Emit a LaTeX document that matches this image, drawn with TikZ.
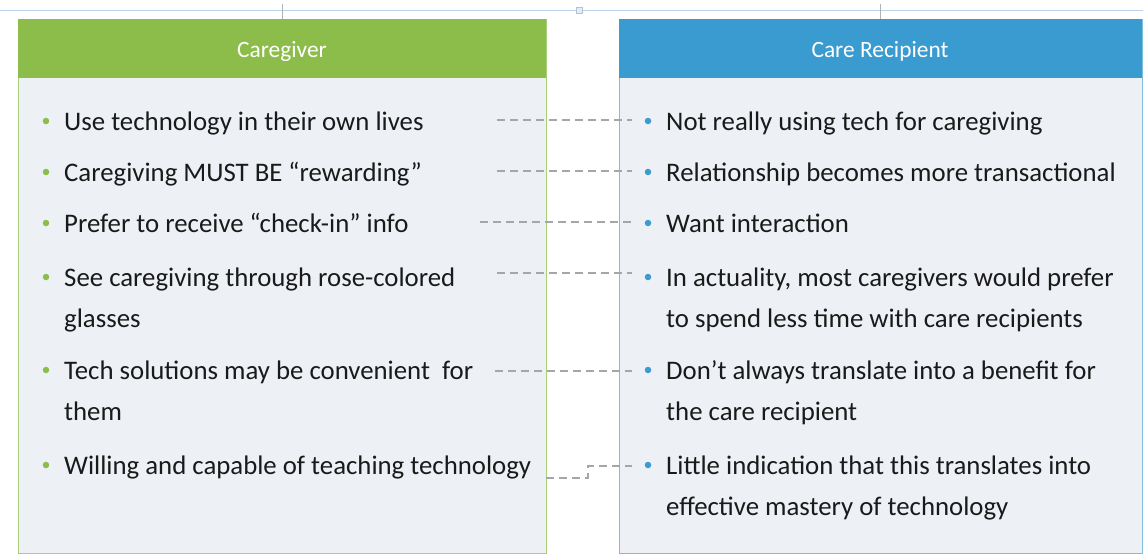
\documentclass[tikz,border=0pt]{standalone}
\usepackage{fontspec}
\setmainfont{Carlito}
\definecolor{hgreen}{RGB}{140,189,74}
\definecolor{hblue}{RGB}{57,155,208}
\definecolor{bgreen}{RGB}{168,208,122}
\definecolor{bblue}{RGB}{127,189,224}
\definecolor{bodyfill}{RGB}{237,240,245}
\definecolor{txt}{RGB}{26,26,26}
\definecolor{dash}{RGB}{166,166,166}
\definecolor{selline}{RGB}{190,210,235}
\tikzset{
  item/.style={anchor=mid west, inner sep=0pt, yshift=-7pt, text=txt, font=\fontsize{26.8}{30}\selectfont},
  gdot/.style={circle, fill=hgreen, inner sep=0pt, minimum size=6.5pt},
  bdot/.style={circle, fill=hblue, inner sep=0pt, minimum size=6.5pt},
  link/.style={draw=dash, line width=1.4pt, dash pattern=on 8pt off 5pt},
  head/.style={text=white, font=\fontsize{23.4}{28}\selectfont}
}
\begin{document}
\begin{tikzpicture}[x=1pt,y=-1pt]
\useasboundingbox (0,0) rectangle (1143,558);
% selection artefacts
\draw[selline, line width=1pt] (0,10) -- (1143,10);
\draw[gray!60, line width=0.8pt] (282,4) -- (282,19);
\draw[gray!60, line width=0.8pt] (880,4) -- (880,19);
\draw[selline!80!gray, fill=selline!40, line width=0.6pt] (576,7) rectangle (582,13);
% left box
\path[fill=bodyfill, draw=bgreen, line width=1pt] (18,19) rectangle (546,553);
\path[fill=hgreen] (18,19) rectangle (546,78);
\node[head] (lh) at (282,51.5) {Caregiver};
% right box
\path[fill=bodyfill, draw=bblue, line width=1pt] (619,19) rectangle (1142,553);
\path[fill=hblue] (619,19) rectangle (1142,78);
\node[head] (rh) at (880,51.5) {Care Recipient};
% left items
\foreach \y/\n in {121/1,172/2,223/3,277/4,370/5,465/6} {
  \node[gdot] (gd\n) at (46,\y) {};
}
\node[item] (l1) at (64,121) {Use technology in their own lives};
\node[item] (l2) at (64,172) {Caregiving MUST BE “rewarding”};
\node[item] (l3) at (64,223) {Prefer to receive “check-in” info};
\node[item] (l4) at (64,277) {See caregiving through rose-colored};
\node[item] (l4b) at (64,318) {glasses};
\node[item] (l5) at (64,370) {Tech solutions may be convenient\ \ for};
\node[item] (l5b) at (64,411) {them};
\node[item] (l6) at (64,465) {Willing and capable of teaching technology};
% right items
\foreach \y/\n in {121/1,172/2,223/3,277/4,370/5,465/6} {
  \node[bdot] (bd\n) at (648,\y) {};
}
\node[item] (r1) at (666,121) {Not really using tech for caregiving};
\node[item] (r2) at (666,172) {Relationship becomes more transactional};
\node[item] (r3) at (666,223) {Want interaction};
\node[item] (r4) at (666,277) {In actuality, most caregivers would prefer};
\node[item] (r4b) at (666,318) {to spend less time with care recipients};
\node[item] (r5) at (666,370) {Don’t always translate into a benefit for};
\node[item] (r5b) at (666,411) {the care recipient};
\node[item] (r6) at (666,465) {Little indication that this translates into};
\node[item] (r6b) at (666,506) {effective mastery of technology};
% connectors
\coordinate (s1) at (497,120);
\coordinate (s2) at (497,171);
\coordinate (s3) at (480,222);
\coordinate (s4) at (497,273);
\coordinate (s5) at (495,371);
\coordinate (s6) at (546,478);
\coordinate (e1) at (632,120);
\coordinate (e2) at (632,171);
\coordinate (e3) at (632,222);
\coordinate (e4) at (632,273);
\coordinate (e5) at (632,371);
\coordinate (e6) at (632,466);
\draw[link] (s1) -- (e1);
\draw[link] (s2) -- (e2);
\draw[link] (s3) -- (e3);
\draw[link] (s4) -- (e4);
\draw[link] (s5) -- (e5);
\draw[link] (s6) -- (588,478) -- (588,466) -- (e6);
\end{tikzpicture}
\end{document}
